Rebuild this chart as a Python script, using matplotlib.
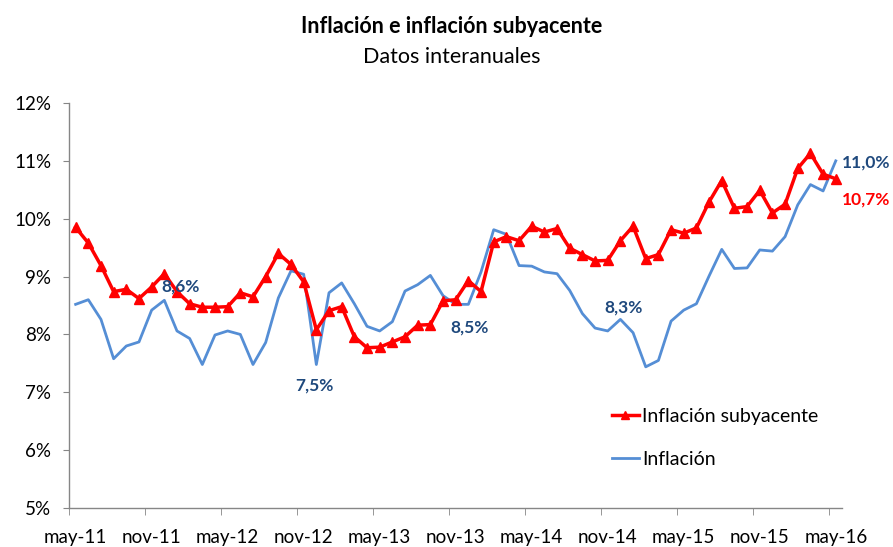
import matplotlib
matplotlib.use("Agg")
import matplotlib.pyplot as plt

# monthly series, may-11 .. may-16 (61 months)
subyacente = [9.85, 9.58, 9.19, 8.74, 8.78, 8.62, 8.82, 9.05, 8.74, 8.53,
              8.47, 8.47, 8.48, 8.72, 8.65, 9.00, 9.40, 9.21, 8.91, 8.08,
              8.41, 8.48, 7.96, 7.77, 7.78, 7.87, 7.96, 8.16, 8.17, 8.58,
              8.60, 8.93, 8.74, 9.60, 9.69, 9.62, 9.87, 9.77, 9.83, 9.49,
              9.38, 9.27, 9.28, 9.62, 9.87, 9.31, 9.38, 9.81, 9.75, 9.84,
              10.29, 10.66, 10.18, 10.21, 10.49, 10.10, 10.25, 10.87, 11.13, 10.77,
              10.69]
inflacion = [8.52, 8.60, 8.26, 7.58, 7.80, 7.87, 8.42, 8.59, 8.06, 7.93,
             7.48, 7.99, 8.06, 8.00, 7.48, 7.86, 8.63, 9.10, 9.04, 7.48,
             8.72, 8.89, 8.53, 8.14, 8.06, 8.22, 8.75, 8.86, 9.02, 8.67,
             8.52, 8.52, 9.08, 9.81, 9.73, 9.19, 9.18, 9.08, 9.05, 8.76,
             8.36, 8.11, 8.06, 8.26, 8.03, 7.44, 7.55, 8.23, 8.42, 8.53,
             9.01, 9.47, 9.14, 9.15, 9.46, 9.44, 9.69, 10.24, 10.59, 10.48,
             11.00]
tick_labels = ["may-11", "nov-11", "may-12", "nov-12", "may-13", "nov-13",
               "may-14", "nov-14", "may-15", "nov-15", "may-16"]
y_ticks = [5, 6, 7, 8, 9, 10, 11, 12]

# labelled points: (index, text, offset in px)
blue_labels = [(7, "8,6%", (16, 14)), (19, "7,5%", (-2, -21)),
               (31, "8,5%", (1, -23)), (43, "8,3%", (3, 12)),
               (60, "11,0%", (30, -2))]
red_labels = [(60, "10,7%", (30, -21))]

plt.rcParams['font.family'] = ['Lato', 'DejaVu Sans']

RED = "#FF0000"
BLUE = "#558ED5"
DARK = "#1F497D"
GREY = "#868686"

fig = plt.figure(figsize=(8.93, 5.47), dpi=100)
ax = fig.add_axes([0.0776, 0.0713, 0.8654, 0.7404])

x = list(range(len(subyacente)))
ax.plot(x, subyacente, color=RED, lw=2.5, marker="^", ms=7.5,
        label="Inflación subyacente", zorder=3)
ax.plot(x, inflacion, color=BLUE, lw=2.0, label="Inflación", zorder=2)

ax.set_xlim(-0.5, len(x) - 0.5)
ax.set_ylim(5, 12)
ax.set_yticks(y_ticks)
ax.set_yticklabels(["%d%%" % v for v in y_ticks])
ax.set_xticks(range(0, len(x), 6))
ax.set_xticklabels(tick_labels)
ax.set_xticks([v - 0.5 for v in range(0, len(x), 6)], minor=True)

for s in ["top", "right"]:
    ax.spines[s].set_visible(False)
for s in ["left", "bottom"]:
    ax.spines[s].set_color(GREY)
    ax.spines[s].set_linewidth(1.0)

ax.tick_params(axis="y", direction="out", length=4, color=GREY,
               labelsize=13.5, pad=9)
ax.tick_params(axis="x", which="major", length=0, labelsize=13.5, pad=15)
ax.tick_params(axis="x", which="minor", direction="out", length=5,
               color=GREY)

for i, txt, off in blue_labels:
    ax.annotate(txt, (i, inflacion[i]), xytext=(off[0] * 0.72, off[1] * 0.72),
                textcoords="offset points", ha="center", va="center",
                fontsize=12.5, fontweight="bold", color=DARK)
for i, txt, off in red_labels:
    ax.annotate(txt, (i, subyacente[i]), xytext=(off[0] * 0.72, off[1] * 0.72),
                textcoords="offset points", ha="center", va="center",
                fontsize=12.5, fontweight="bold", color=RED,
                annotation_clip=False)

leg = ax.legend(loc="upper left", bbox_to_anchor=(0.702, 0.248), frameon=False,
                fontsize=14, handlelength=1.4, handletextpad=0.15,
                labelspacing=1.36, borderpad=0, borderaxespad=0)
leg.legend_handles[0].set_markersize(6)

fig.text(0.506, 0.952, "Inflación e inflación subyacente", ha="center",
         va="center", fontsize=15.5, fontweight="bold")
fig.text(0.506, 0.895, "Datos interanuales", ha="center", va="center",
         fontsize=15.5)

fig.savefig("out.png", dpi=100)
